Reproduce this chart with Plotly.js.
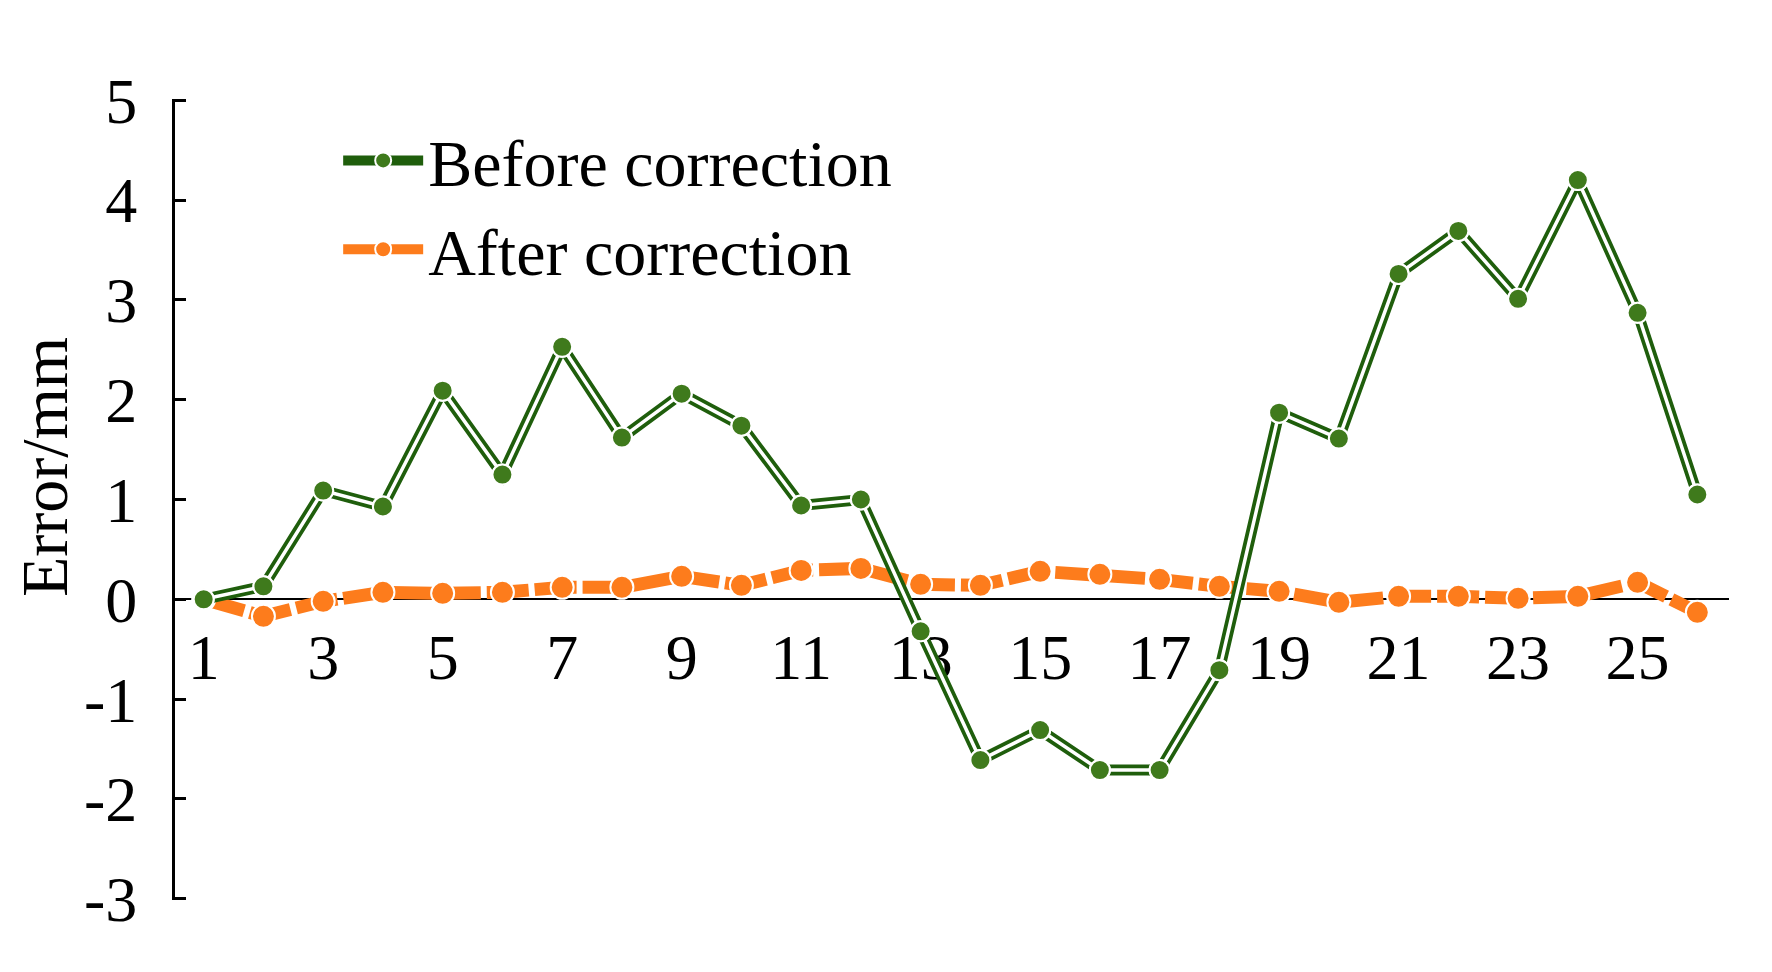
<!DOCTYPE html>
<html lang="en">
<head>
    <meta charset="UTF-8">
    <title>Error before / after correction</title>
    <script src="https://cdn.plot.ly/plotly-3.0.1.min.js"></script>
    <style>
        body { margin: 0; padding: 0; background: #fff; }
        #grafico { width: 1772px; height: 972px; }
    </style>
</head>
<body>
    <div id="grafico"></div>

    <script>
        // dados
        const pontos = [1, 2, 3, 4, 5, 6, 7, 8, 9, 10, 11, 12, 13, 14, 15, 16, 17, 18, 19, 20, 21, 22, 23, 24, 25, 26];
        const antes = [0.00, 0.13, 1.09, 0.93, 2.09, 1.25, 2.53, 1.62, 2.06, 1.74, 0.94, 1.00, -0.32,
                       -1.61, -1.31, -1.71, -1.71, -0.71, 1.87, 1.61, 3.26, 3.69, 3.01, 4.20, 2.87, 1.05];
        const depois = [0.00, -0.17, -0.02, 0.07, 0.06, 0.07, 0.12, 0.12, 0.23, 0.14, 0.29, 0.31, 0.15,
                        0.14, 0.28, 0.25, 0.20, 0.13, 0.08, -0.03, 0.03, 0.03, 0.01, 0.03, 0.17, -0.13];
        const xTicks = [1, 3, 5, 7, 9, 11, 13, 15, 17, 19, 21, 23, 25];
        const yTicks = [-3, -2, -1, 0, 1, 2, 3, 4, 5];
        const yTickText = ['-3', '-2', '-1', '0', '1', '2', '3', '4', '5'];

        const verdeLinha = '#1f5e0c';
        const verdeMarca = '#3f7a1c';
        const laranja = '#fd7c1c';
        const fonte = 'Liberation Serif, Times New Roman, serif';

        // laranja primeiro, o verde passa por cima nos cruzamentos
        var traceDepois = {
            x: pontos, y: depois,
            name: 'After correction',
            legendrank: 2,
            type: 'scatter',
            mode: 'lines+markers',
            line: { color: laranja, width: 13, dash: '42px,6px' },
            marker: { color: laranja, size: 23, line: { color: '#ffffff', width: 2 } }
        };

        // linha dupla: verde grosso + branco fino por cima
        var traceAntes = {
            x: pontos, y: antes,
            name: 'Before correction',
            legendrank: 1,
            type: 'scatter',
            mode: 'lines+markers',
            line: { color: verdeLinha, width: 11 },
            marker: { color: verdeMarca, size: 20, line: { color: '#ffffff', width: 2 } }
        };
        var traceAntesMeio = {
            x: pontos, y: antes,
            showlegend: false,
            hoverinfo: 'skip',
            type: 'scatter',
            mode: 'lines',
            line: { color: '#ffffff', width: 3.5 }
        };
        var traceAntesMarcas = {
            x: pontos, y: antes,
            showlegend: false,
            hoverinfo: 'skip',
            type: 'scatter',
            mode: 'markers',
            marker: { color: verdeMarca, size: 20, line: { color: '#ffffff', width: 2 } }
        };

        var layout = {
            width: 1772,
            height: 972,
            margin: { l: 175, r: 43, t: 99, b: 72 },
            paper_bgcolor: '#ffffff',
            plot_bgcolor: '#ffffff',
            font: { family: fonte, size: 64, color: '#000000' },
            showlegend: true,
            legend: {
                x: 0.105, y: 0.985,
                xanchor: 'left', yanchor: 'top',
                bgcolor: 'rgba(0,0,0,0)',
                font: { family: fonte, size: 66, color: '#000000' },
                itemwidth: 80,
                tracegroupgap: 0
            },
            xaxis: {
                range: [0.52, 26.53],
                tickvals: xTicks,
                ticks: '',
                showgrid: false,
                zeroline: false,
                showline: true,
                linecolor: '#000000',
                linewidth: 2,
                anchor: 'free',
                position: 3.012 / 8.024,
                layer: 'below traces',
                ticklabelstandoff: 2,
                tickfont: { family: fonte, size: 64 }
            },
            yaxis: {
                // um pouco além de -3 e 5 para o Plotly desenhar os ticks das pontas
                range: [-3.012, 5.012],
                tickvals: yTicks,
                ticktext: yTickText,
                ticks: 'inside',
                ticklen: 11,
                tickwidth: 3,
                tickcolor: '#000000',
                showgrid: false,
                zeroline: false,
                showline: true,
                linecolor: '#000000',
                linewidth: 3,
                layer: 'above traces',
                ticklabelstandoff: 22,
                tickfont: { family: fonte, size: 64 }
            },
            annotations: [{
                text: 'Error/mm',
                xref: 'paper', yref: 'paper',
                x: -0.084, y: 0.541,
                xanchor: 'center', yanchor: 'middle',
                textangle: -90,
                showarrow: false,
                font: { family: fonte, size: 66, color: '#000000' }
            }]
        };

        Plotly.newPlot('grafico', [traceDepois, traceAntes, traceAntesMeio, traceAntesMarcas], layout, { displayModeBar: false });
    </script>
</body>
</html>
